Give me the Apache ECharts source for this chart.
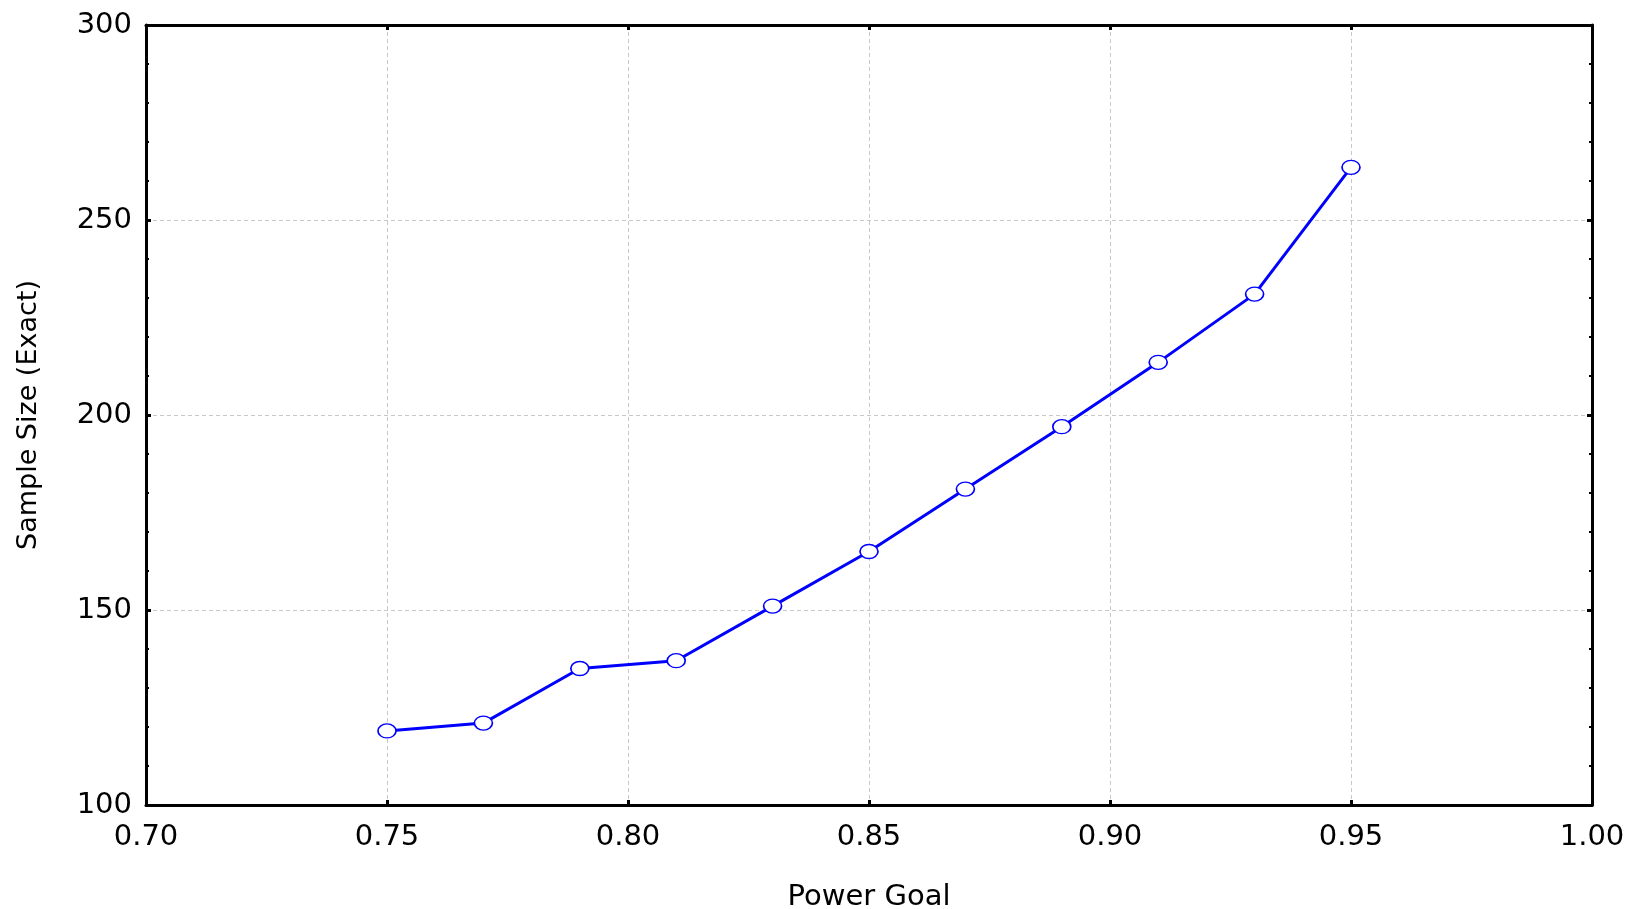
<!DOCTYPE html>
<html>
<head>
<meta charset="utf-8">
<script src="https://cdn.jsdelivr.net/npm/echarts@6/dist/echarts.min.js"></script>
<style>
  html, body { margin: 0; padding: 0; background: #fff; }
  #chart { width: 1633px; height: 909px; }
</style>
</head>
<body>
<div id="chart"></div>
<script>
const powerGoal = [0.75, 0.77, 0.79, 0.81, 0.83, 0.85, 0.87, 0.89, 0.91, 0.93, 0.95];
const sampleSize = [119, 121, 135, 137, 151, 165, 181, 197, 213.5, 231, 263.5];

const FONT = 'DejaVu Sans, sans-serif';

const chart = echarts.init(document.getElementById('chart'));

const gridLine = { show: true, lineStyle: { color: '#c8c8c8', type: [4, 3], width: 1 } };

const option = {
    animation: false,
    backgroundColor: '#ffffff',
    grid: { left: 146, right: 41, top: 25, bottom: 104, show: false, outerBoundsMode: 'none', containLabel: false },
    xAxis: [
        {
            type: 'value',
            min: 0.7,
            max: 1.0,
            interval: 0.05,
            name: 'Power Goal',
            nameLocation: 'middle',
            nameGap: 78,
            nameTextStyle: { fontFamily: FONT, fontSize: 29, color: '#000' },
            axisLine: { lineStyle: { color: '#000', width: 3 } },
            axisTick: { inside: true, length: 5, lineStyle: { color: '#000', width: 3 } },
            axisLabel: {
                fontFamily: FONT, fontSize: 29, color: '#000', margin: 18,
                formatter: v => v.toFixed(2)
            },
            splitLine: gridLine
        },
        {
            type: 'value',
            position: 'top',
            min: 0.7,
            max: 1.0,
            interval: 0.05,
            axisLine: { lineStyle: { color: '#000', width: 3 } },
            axisTick: { inside: true, length: 5, lineStyle: { color: '#000', width: 3 } },
            axisLabel: { show: false },
            splitLine: { show: false }
        }
    ],
    yAxis: [
        {
            type: 'value',
            min: 100,
            max: 300,
            interval: 50,
            name: 'Sample Size (Exact)',
            nameLocation: 'middle',
            nameGap: 104,
            nameTextStyle: { fontFamily: FONT, fontSize: 27, color: '#000' },
            axisLine: { show: true, lineStyle: { color: '#000', width: 3 } },
            axisTick: { show: true, inside: true, length: 5, lineStyle: { color: '#000', width: 3 } },
            minorTick: { show: true, splitNumber: 5, length: 3, lineStyle: { color: '#000', width: 2 } },
            axisLabel: { fontFamily: FONT, fontSize: 29, color: '#000', margin: 14 },
            splitLine: gridLine
        },
        {
            type: 'value',
            position: 'right',
            min: 100,
            max: 300,
            interval: 50,
            axisLine: { show: true, lineStyle: { color: '#000', width: 3 } },
            axisTick: { show: true, inside: true, length: 5, lineStyle: { color: '#000', width: 3 } },
            minorTick: { show: true, splitNumber: 5, length: 3, lineStyle: { color: '#000', width: 2 } },
            axisLabel: { show: false },
            splitLine: { show: false }
        }
    ],
    series: [
        {
            type: 'line',
            data: powerGoal.map((p, i) => [p, sampleSize[i]]),
            symbol: 'circle',
            symbolSize: [18, 14],
            showAllSymbol: true,
            lineStyle: { color: '#0000ff', width: 3 },
            itemStyle: { color: '#ffffff', borderColor: '#0000ff', borderWidth: 1.5 },
            z: 5
        }
    ]
};

chart.setOption(option);
</script>
</body>
</html>
